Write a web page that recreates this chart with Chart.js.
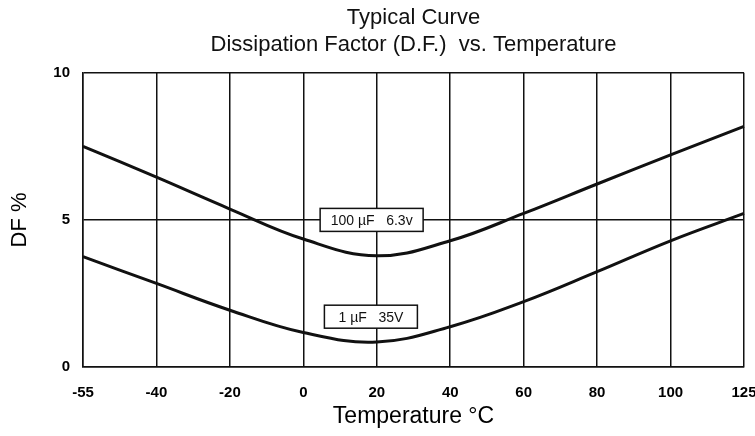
<!DOCTYPE html>
<html>
<head>
	<title>Dissipation Factor vs. Temperature</title>
	<style>
		html, body {
			margin: 0;
			padding: 0;
			background: #fff;
		}
		#wrap {
			width: 755px;
			height: 436px;
		}
	</style>
</head>
<body>

	<div id="wrap">
		<canvas id="dfCanvas"></canvas>
	</div>

	<script src="https://cdn.jsdelivr.net/npm/chart.js@4/dist/chart.umd.min.js"></script>
	<script>
		// temperature steps along the x axis (evenly spaced on the sheet)
		var tempLabels = ['-55', '-40', '-20', '0', '20', '40', '60', '80', '100', '125'];
		// DF % read at each temperature step
		var df100uF = [7.5, 6.45, 5.37, 4.35, 3.78, 4.29, 5.22, 6.22, 7.21, 8.18];
		var df1uF = [3.75, 2.84, 1.93, 1.17, 0.85, 1.37, 2.22, 3.24, 4.29, 5.22];
		var curveNames = ['100 \u00b5F   6.3v', '1 \u00b5F   35V'];

		var ink = '#111';
		var tickFont = { family: 'Liberation Sans, Arial, sans-serif', size: 15, weight: 'bold' };

		// boxed curve captions, placed in data units
		var captionPlugin = {
			id: 'captions',
			afterDatasetsDraw: function (chart, args, opts) {
				var ctx = chart.ctx;
				var xs = chart.scales.x, ys = chart.scales.y;
				ctx.save();
				ctx.font = '14px Liberation Sans, Arial, sans-serif';
				ctx.textAlign = 'center';
				ctx.textBaseline = 'middle';
				opts.items.forEach(function (it) {
					var cx = xs.getPixelForValue(it.at[0]);
					var cy = ys.getPixelForValue(it.at[1]);
					var w = it.w, h = 23;
					ctx.fillStyle = '#fff';
					ctx.fillRect(cx - w / 2, cy - h / 2, w, h);
					ctx.lineWidth = 1.5;
					ctx.strokeStyle = ink;
					ctx.strokeRect(cx - w / 2, cy - h / 2, w, h);
					ctx.fillStyle = ink;
					ctx.fillText(it.text, cx, cy + 1);
				});
				ctx.restore();
			}
		};

		var ctx = document.getElementById('dfCanvas').getContext('2d');

		var dfChart = new Chart(ctx, {
			type: 'line',
			data: {
				labels: tempLabels,
				datasets: [{
					label: curveNames[0],
					data: df100uF,
					borderColor: ink,
					borderWidth: 3,
					pointRadius: 0,
					tension: 0.4,
					fill: false
				}, {
					label: curveNames[1],
					data: df1uF,
					borderColor: ink,
					borderWidth: 3,
					pointRadius: 0,
					tension: 0.4,
					fill: false
				}]
			},
			options: {
				responsive: true,
				maintainAspectRatio: false,
				animation: false,
				layout: { padding: 0 },
				plugins: {
					legend: { display: false },
					tooltip: { enabled: false },
					title: {
						display: true,
						fullSize: false,
						text: ['Typical Curve', 'Dissipation Factor (D.F.)  vs. Temperature'],
						color: ink,
						font: { family: 'Liberation Sans, Arial, sans-serif', size: 22, weight: 'normal', lineHeight: 1.2 },
						padding: { top: 5, bottom: 15 }
					},
					captions: {
						items: [
							{ text: curveNames[0], at: [3.93, 5], w: 103 },
							{ text: curveNames[1], at: [3.92, 1.71], w: 93 }
						]
					}
				},
				scales: {
					x: {
						grid: { color: ink, lineWidth: 1.5, drawTicks: false },
						border: { color: ink, width: 1.5 },
						ticks: { color: '#000', font: tickFont, padding: 17, maxRotation: 0, autoSkip: false },
						title: {
							display: true,
							text: 'Temperature \u00b0C',
							color: '#000',
							font: { family: 'Liberation Sans, Arial, sans-serif', size: 23 },
							padding: { top: 0, bottom: 6 }
						},
						afterFit: function (s) {
							s.height = 69;
							// let the last tick label run to the canvas edge
							s.paddingRight = 11;
						}
					},
					y: {
						min: 0,
						max: 10,
						grid: { color: ink, lineWidth: 1.5, drawTicks: false },
						border: { color: ink, width: 1.5 },
						ticks: { stepSize: 5, color: '#000', font: tickFont, padding: 13 },
						title: {
							display: true,
							text: 'DF %',
							color: '#000',
							font: { family: 'Liberation Sans, Arial, sans-serif', size: 22 },
							padding: { top: 7, bottom: 0 }
						},
						afterFit: function (s) { s.width = 83; }
					}
				}
			},
			plugins: [captionPlugin]
		});
	</script>
</body>
</html>
